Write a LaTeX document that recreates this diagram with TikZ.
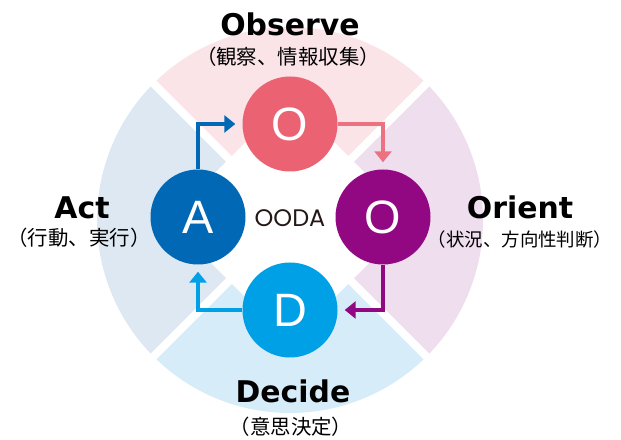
\documentclass[tikz,border=0pt]{standalone}
\usepackage{fontspec}
\usepackage{tikz}
\usetikzlibrary{arrows.meta}
\setmainfont{DejaVu Sans}
\newfontfamily\jpfont{Noto Sans CJK JP}
\newfontfamily\letrafont{Liberation Sans}
\newfontfamily\oodafont{Poppins}
\definecolor{sectorObs}{RGB}{250,228,232}
\definecolor{sectorOri}{RGB}{238,222,238}
\definecolor{sectorDec}{RGB}{214,236,248}
\definecolor{sectorAct}{RGB}{222,232,243}
\definecolor{colObs}{RGB}{235,98,115}
\definecolor{colOri}{RGB}{146,8,130}
\definecolor{colDec}{RGB}{0,160,230}
\definecolor{colAct}{RGB}{0,104,181}
\definecolor{tinta}{RGB}{35,24,21}
\pgfdeclarelayer{fondo}
\pgfdeclarelayer{lineas_layer}
\pgfsetlayers{fondo,lineas_layer,main}
\tikzstyle{fase}=[circle,minimum size=95bp,inner sep=0pt,text=white,font=\letrafont\fontsize{47}{47}\selectfont]
\tikzstyle{titulo}=[inner sep=0pt,font=\bfseries\fontsize{30}{30}\selectfont]
\tikzstyle{detalle}=[inner sep=0pt,font=\jpfont\fontsize{20.5}{20.5}\selectfont]
\tikzstyle{centro}=[inner sep=0pt,text=tinta,font=\oodafont\fontsize{24}{24}\selectfont]
\tikzstyle{line}=[draw,-{Triangle[length=11bp,width=17bp]},line width=4.5bp,shorten >=7bp]
\tikzstyle{hueco}=[draw=white,line width=8bp]

\begin{document}
\begin{tikzpicture}[x=1bp,y=1bp]
		\useasboundingbox (0,0) rectangle (621,440);
		\begin{pgfonlayer}{fondo}
			\fill [color=sectorObs] (290,220) -- ++(45:193) arc (45:135:193) -- cycle;
			\fill [color=sectorAct] (290,220) -- ++(135:193) arc (135:225:193) -- cycle;
			\fill [color=sectorDec] (290,220) -- ++(225:193) arc (225:315:193) -- cycle;
			\fill [color=sectorOri] (290,220) -- ++(315:193) arc (315:405:193) -- cycle;
			\path [style=hueco] (290,220) ++(45:200) -- ++(225:400);
			\path [style=hueco] (290,220) ++(135:200) -- ++(315:400);
			\fill [white] (290,342) -- (412,220) -- (290,98) -- (168,220) -- cycle;
		\end{pgfonlayer}
		\node [style=fase,fill=colObs] (observar) at (290,316) {O};
		\node [style=fase,fill=colOri] (orientar) at (383,223) {O};
		\node [style=fase,fill=colDec] (decidir) at (290,130) {D};
		\node [style=fase,fill=colAct] (actuar) at (198,223) {A};
		\node [style=centro] (ooda) at (290,222) {OODA};
		\node [style=titulo] (observe) at (290,416) {Observe};
		\node [style=detalle] (observe_jp) at (288,383) {（観察、情報収集）};
		\node [style=titulo] (orient) at (520,233) {Orient};
		\node [style=detalle,font=\jpfont\fontsize{18.5}{18.5}\selectfont] (orient_jp) at (520,200) {（状況、方向性判断）};
		\node [style=titulo] (decide) at (293,49) {Decide};
		\node [style=detalle] (decide_jp) at (291,13) {（意思決定）};
		\node [style=titulo] (act) at (82,232) {Act};
		\node [style=detalle] (act_jp) at (79,202) {（行動、実行）};
		\begin{pgfonlayer}{lineas_layer}
			 \path [style=line,draw=colAct] (actuar.north) |- (observar.west);
			 \path [style=line,draw=colObs!90!white] (observar.east) -| (orientar.north);
			 \path [style=line,draw=colOri] (orientar.south) |- (decidir.east);
			 \path [style=line,draw=colDec] (decidir.west) -| (actuar.south);
		\end{pgfonlayer}
\end{tikzpicture}
\end{document}
